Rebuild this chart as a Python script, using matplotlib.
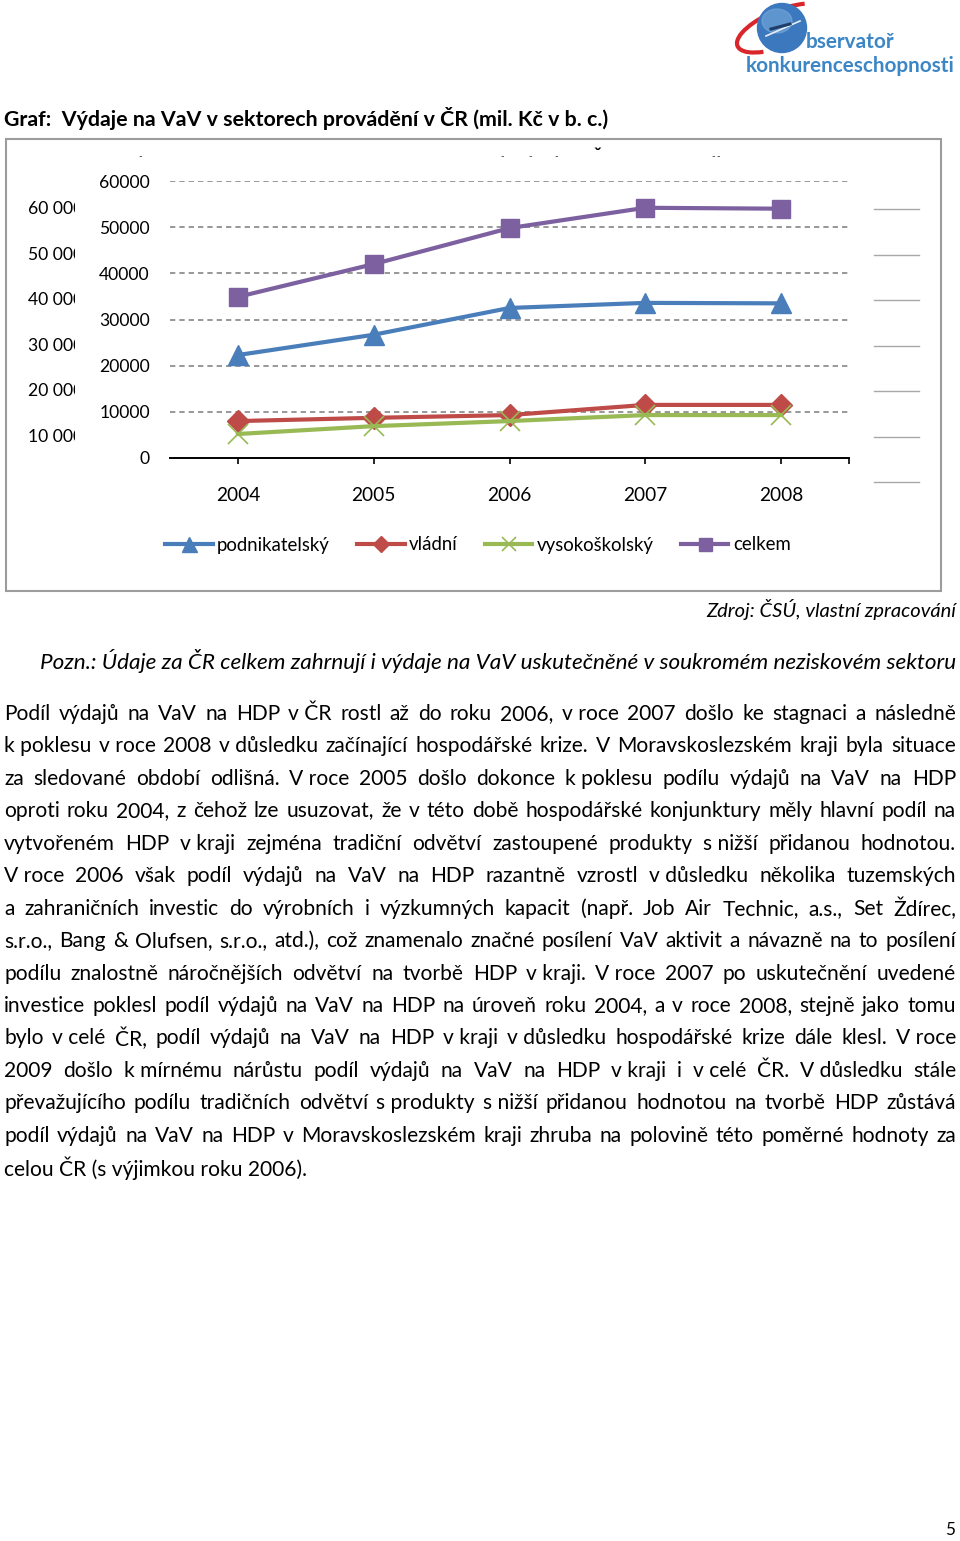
import matplotlib
matplotlib.use('Agg')
import matplotlib.pyplot as plt
from matplotlib.font_manager import FontProperties
from matplotlib.patches import Rectangle, Circle, Arc, Ellipse
from matplotlib.transforms import Bbox

# ---------------- data ----------------
years = ['2004', '2005', '2006', '2007', '2008']
podnikatelsky = [22300, 26700, 32500, 33600, 33500]
vladni = [8000, 8700, 9300, 11500, 11500]
vysokoskolsky = [5200, 6900, 8000, 9300, 9300]
celkem = [34900, 42000, 49800, 54200, 54000]
series_names = ['podnikatelský', 'vládní', 'vysokoškolský', 'celkem']
y_ticks = [0, 10000, 20000, 30000, 40000, 50000, 60000]
ghost_left_labels = ['60 000', '50 000', '40 000', '30 000', '20 000', '10 000']

title = 'Graf:  Výdaje na VaV v sektorech provádění v ČR (mil. Kč v b. c.)'
source = 'Zdroj: ČSÚ, vlastní zpracování'
note = 'Pozn.: Údaje za ČR celkem zahrnují i výdaje na VaV uskutečněné v soukromém neziskovém sektoru'
NB = '\u00a0'
body_lines = [
    'Podíl výdajů na VaV na HDP v' + NB + 'ČR rostl až do roku 2006, v' + NB + 'roce 2007 došlo ke stagnaci a následně',
    'k' + NB + 'poklesu v' + NB + 'roce 2008 v' + NB + 'důsledku začínající hospodářské krize. V Moravskoslezském kraji byla situace',
    'za sledované období odlišná. V' + NB + 'roce 2005 došlo dokonce k' + NB + 'poklesu podílu výdajů na VaV na HDP',
    'oproti roku 2004, z čehož lze usuzovat, že v této době hospodářské konjunktury měly hlavní podíl na',
    'vytvořeném HDP v' + NB + 'kraji zejména tradiční odvětví zastoupené produkty s' + NB + 'nižší přidanou hodnotou.',
    'V' + NB + 'roce 2006 však podíl výdajů na VaV na HDP razantně vzrostl v' + NB + 'důsledku několika tuzemských',
    'a zahraničních investic do výrobních i výzkumných kapacit (např. Job Air Technic, a.s., Set Ždírec,',
    's.r.o., Bang & Olufsen, s.r.o., atd.), což znamenalo značné posílení VaV aktivit a návazně na to posílení',
    'podílu znalostně náročnějších odvětví na tvorbě HDP v' + NB + 'kraji. V' + NB + 'roce 2007 po uskutečnění uvedené',
    'investice poklesl podíl výdajů na VaV na HDP na úroveň roku 2004, a v roce 2008, stejně jako tomu',
    'bylo v' + NB + 'celé ČR, podíl výdajů na VaV na HDP v' + NB + 'kraji v' + NB + 'důsledku hospodářské krize dále klesl. V' + NB + 'roce',
    '2009 došlo k' + NB + 'mírnému nárůstu podíl výdajů na VaV na HDP v' + NB + 'kraji i v' + NB + 'celé ČR. V' + NB + 'důsledku stále',
    'převažujícího podílu tradičních odvětví s' + NB + 'produkty s' + NB + 'nižší přidanou hodnotou na tvorbě HDP zůstává',
    'podíl výdajů na VaV na HDP v Moravskoslezském kraji zhruba na polovině této poměrné hodnoty za',
    'celou ČR (s výjimkou roku 2006).',
]

# ---------------- figure / page ----------------
W, H = 960, 1541
FAM = ['Lato', 'DejaVu Sans']
fig = plt.figure(figsize=(W / 100, H / 100), dpi=100)
page = fig.add_axes([0, 0, 1, 1])
page.set_xlim(0, W)
page.set_ylim(H, 0)
page.axis('off')
r = fig.canvas.get_renderer()


def tw(s, size, weight='normal', style='normal'):
    fp = FontProperties(family=FAM, size=size, weight=weight, style=style)
    w, h, d = r.get_text_width_height_descent(s, fp, ismath=False)
    return w


def fit(s, target, weight='normal', style='normal'):
    return 10.0 * target / tw(s, 10, weight, style)


# ---------------- logo ----------------
page.add_patch(Arc((782, 28), 96, 36, angle=-22, theta1=150, theta2=335,
                   color='#d8262b', lw=3.0, zorder=2))
page.add_patch(Circle((782, 28), 24.5, color='#3b78bd', zorder=3))
page.add_patch(Ellipse((777, 21), 30, 24, color='#78a9db', alpha=0.6, zorder=3))
page.plot([766, 800], [36, 21], color='#e8eef6', lw=1.2, zorder=4)
page.plot([771, 790], [29, 24], color='#1f3f6a', lw=2.2, zorder=4)
logo_col = '#3d86c6'
s1 = fit('bservatoř', 89, weight='bold')
page.text(806, 42, 'bservatoř', fontsize=s1, fontweight='bold', color=logo_col,
          family=FAM, ha='left', va='center', zorder=5)
s2 = fit('konkurenceschopnosti', 209, weight='bold')
page.text(746, 66, 'konkurenceschopnosti', fontsize=s2, fontweight='bold', color=logo_col,
          family=FAM, ha='left', va='center', zorder=5)

# ---------------- title ----------------
st = fit(title, 606, weight='bold')
page.text(4, 118, title, fontsize=st, fontweight='bold', family=FAM, ha='left', va='center',
          color='black')

# ---------------- chart frame and ghost elements ----------------
page.add_patch(Rectangle((6, 139), 935, 452, fill=False, ec='#9c9c9c', lw=1.5, zorder=1))
clip_box = Bbox([[0, H - 560], [75, H - 140]])
for i, lab in enumerate(ghost_left_labels):
    t = page.text(28, 209 + i * 45.6, lab, fontsize=12.6, family=FAM, ha='left', va='center')
    t.set_clip_on(True)
    t.set_clip_box(clip_box)
for i in range(7):
    yy = 209 + i * 45.5
    page.plot([874, 919], [yy, yy], color='#a8a8a8', lw=1.0)
for xx, ch in [(140, '-'), (502, '-'), (530, '-'), (556, '-'), (713, '-'), (718, '-')]:
    page.text(xx, 157, ch, fontsize=7, family=FAM, ha='center', va='center', color='#333333')
page.text(597, 155, 'ˇ', fontsize=14, family=FAM, ha='center', va='center', color='black',
          fontweight='bold')

# ---------------- chart ----------------
ax = fig.add_axes([170 / W, 1 - 458 / H, 679 / W, 277 / H])
ax.set_facecolor('none')
x = list(range(len(years)))
ax.set_xlim(-0.5, 4.5)
ax.set_ylim(0, 60000)
for sp in ['top', 'right', 'left']:
    ax.spines[sp].set_visible(False)
ax.spines['bottom'].set_color('black')
ax.spines['bottom'].set_linewidth(1.4)
ax.set_yticks(y_ticks)
ax.set_yticklabels([str(v) for v in y_ticks], family=FAM, fontsize=12.6)
ax.tick_params(axis='y', length=0, pad=14.5)
ax.set_xticks(x)
ax.set_xticklabels(years, family=FAM, fontsize=13.8)
ax.set_xticks([4.5], minor=True)
ax.tick_params(axis='x', which='both', length=4, width=1.2, direction='out', color='black', pad=17)
for v in y_ticks[1:]:
    ax.axhline(v, color='#868686', lw=1.2, dashes=(3.2, 2.4), zorder=1)

l1, = ax.plot(x, podnikatelsky, color='#4a7ebb', lw=3.0, marker='^', ms=15,
              mfc='#4a7ebb', mec='#4a7ebb', clip_on=False, zorder=3)
l2, = ax.plot(x, vladni, color='#be4b48', lw=3.0, marker='D', ms=11,
              mfc='#be4b48', mec='#be4b48', clip_on=False, zorder=3)
l3, = ax.plot(x, vysokoskolsky, color='#98b954', lw=3.0, marker='x', ms=14, mew=1.2,
              mec='#98b954', clip_on=False, zorder=3)
l4, = ax.plot(x, celkem, color='#7d60a0', lw=3.0, marker='s', ms=13,
              mfc='#7d60a0', mec='#7d60a0', clip_on=False, zorder=3)

fs_leg = 13.4
fig.legend([l1, l2, l3, l4], series_names, loc='center', ncol=4, frameon=False,
           bbox_to_anchor=(478 / W, 1 - 545 / H),
           prop=FontProperties(family=FAM, size=fs_leg),
           handlelength=2.55, handletextpad=0.25, columnspacing=1.45, markerscale=0.72)

# ---------------- source / note ----------------
ss = fit(source, 250, style='italic')
page.text(956, 609, source, fontsize=ss, style='italic', family=FAM, ha='right', va='center')
sn = fit(note, 916, style='italic')
page.text(40, 661, note, fontsize=sn, style='italic', family=FAM, ha='left', va='center')

# ---------------- justified body text ----------------
left, right = 4, 956
size_body = fit(body_lines[-1], 304)
for ln in body_lines[:-1]:
    words = ln.split(' ')
    nat = sum(tw(w_, size_body) for w_ in words) + (len(words) - 1) * tw('a a', size_body) * 0.25
    if nat > right - left:
        size_body *= (right - left) / nat
y0, dy = 714, 32.45
for i, ln in enumerate(body_lines):
    yy = y0 + i * dy
    if i == len(body_lines) - 1:
        page.text(left, yy, ln, fontsize=size_body, family=FAM, ha='left', va='center')
        continue
    words = ln.split(' ')
    widths = [tw(w_, size_body) for w_ in words]
    gap = (right - left - sum(widths)) / (len(words) - 1)
    xx = left
    for w_, wd in zip(words, widths):
        page.text(xx, yy, w_, fontsize=size_body, family=FAM, ha='left', va='center')
        xx += wd + gap

page.text(950, 1530, '5', fontsize=fit('5', 10), family=FAM, ha='center', va='center')

fig.savefig('out.png', dpi=100)
